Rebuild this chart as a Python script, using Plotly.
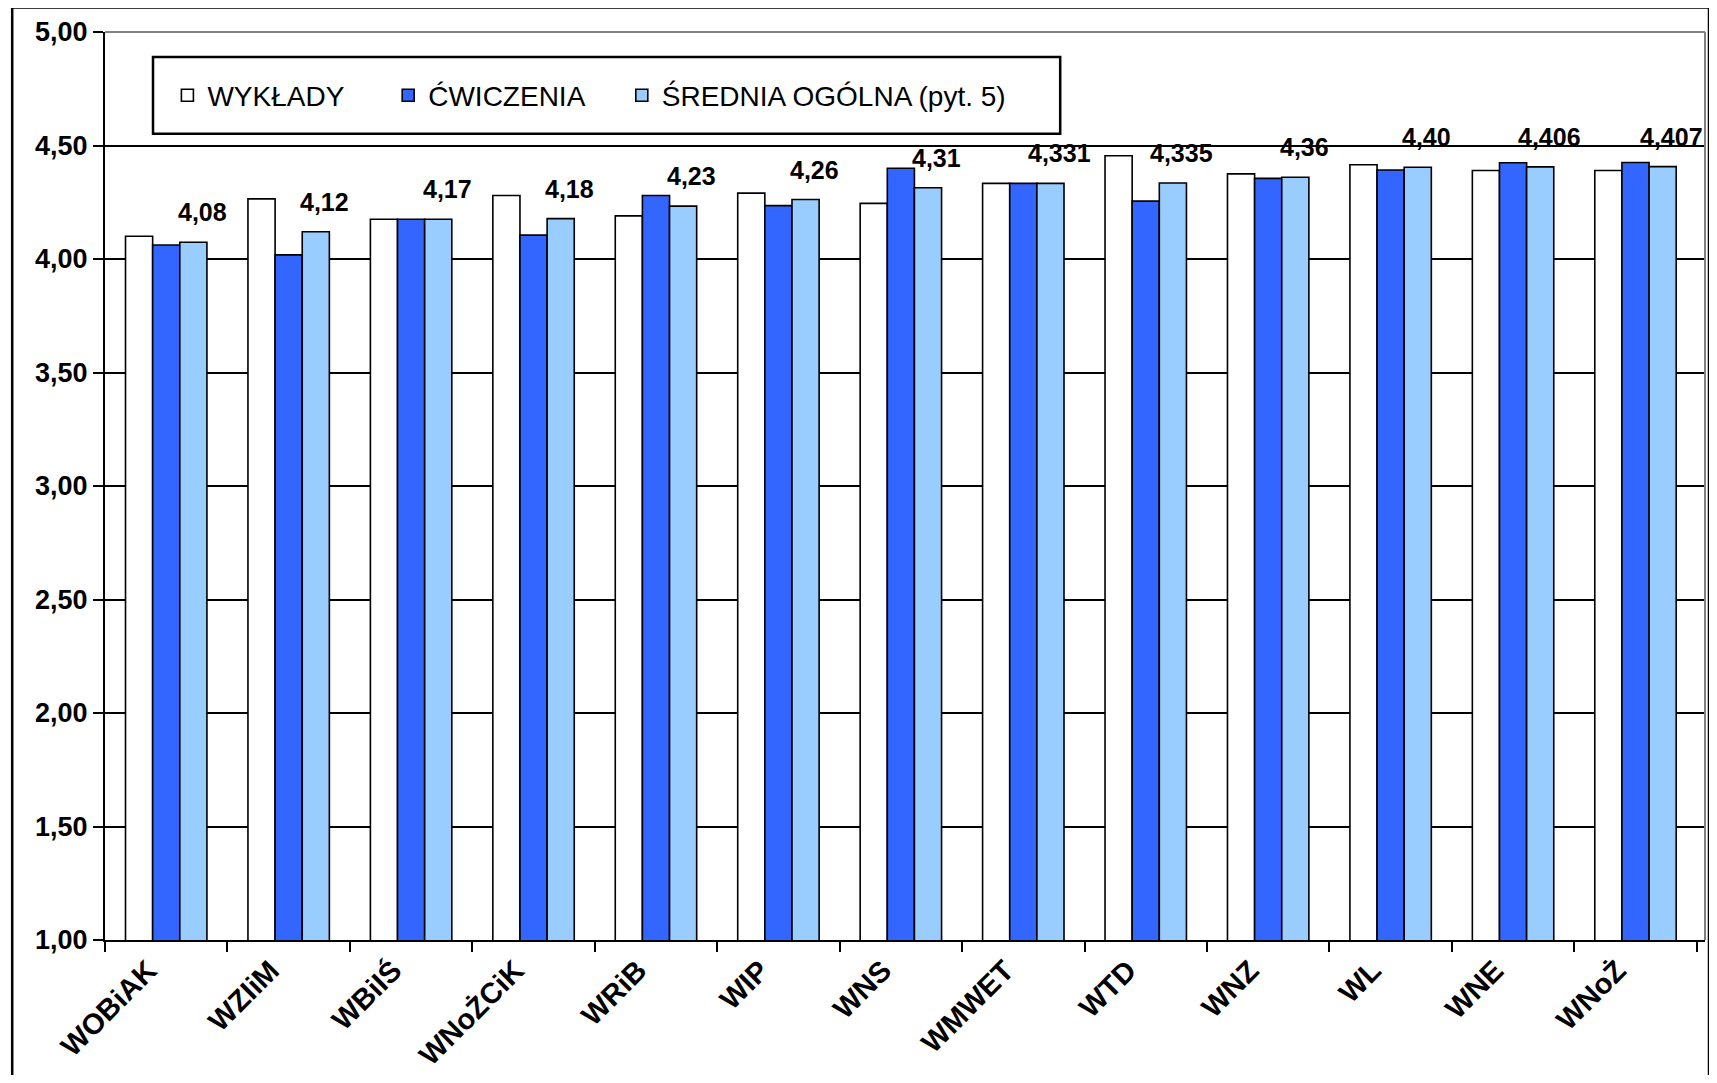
import plotly.graph_objects as go

categories = ["WOBiAK", "WZIiM", "WBiIŚ", "WNoŻCiK", "WRiB", "WIP", "WNS",
              "WMWET", "WTD", "WNZ", "WL", "WNE", "WNoŻ"]
wyklady = [4.10, 4.265, 4.175, 4.28, 4.19, 4.29, 4.245, 4.333, 4.455, 4.375, 4.415, 4.39, 4.39]
cwiczenia = [4.062, 4.018, 4.175, 4.105, 4.28, 4.235, 4.40, 4.333, 4.255, 4.355, 4.392, 4.424, 4.425]
srednia = [4.074, 4.12, 4.175, 4.178, 4.233, 4.262, 4.314, 4.333, 4.335, 4.36, 4.404, 4.406, 4.407]
labels = ["4,08", "4,12", "4,17", "4,18", "4,23", "4,26", "4,31", "4,331",
          "4,335", "4,36", "4,40", "4,406", "4,407"]
series_names = ["WYKŁADY", "ĆWICZENIA", "ŚREDNIA OGÓLNA (pyt. 5)"]
y_ticks = [1.0, 1.5, 2.0, 2.5, 3.0, 3.5, 4.0, 4.5, 5.0]

FONT = "Arial, Liberation Sans, sans-serif"
colors = ["#FFFFFF", "#3366FF", "#99CCFF"]
legend_ids = ["legend", "legend2", "legend3"]

fig = go.Figure()
for name, vals, col, lid in zip(series_names, [wyklady, cwiczenia, srednia], colors, legend_ids):
    fig.add_trace(go.Bar(
        x=categories, y=vals, name=name, legend=lid, showlegend=True,
        marker=dict(color=col, line=dict(color="black", width=1.6)),
    ))

annotations = []
for cat, v, lab in zip(categories, srednia, labels):
    annotations.append(dict(
        x=cat, y=v, xref="x", yref="y", text=lab, showarrow=False,
        xanchor="center", yanchor="bottom", xshift=36, yshift=14,
        font=dict(family=FONT, size=25, color="black", weight="bold"),
    ))

legend_common = dict(
    orientation="h", y=0.93, xanchor="left", yanchor="middle",
    font=dict(family=FONT, size=28, color="black"),
    bgcolor="rgba(0,0,0,0)", borderwidth=0,
)

fig.update_layout(
    width=1701, height=1067,
    margin=dict(l=97, r=4, t=24, b=128),
    paper_bgcolor="white", plot_bgcolor="white",
    separators=", ",
    showlegend=True,
    barmode="group", bargap=0.335, bargroupgap=0,
    font=dict(family=FONT, color="black"),
    annotations=annotations,
    legend=dict(x=0.039, **legend_common),
    legend2=dict(x=0.177, **legend_common),
    legend3=dict(x=0.323, **legend_common),
    shapes=[
        # outer chart frame
        dict(type="rect", xref="paper", yref="paper",
             x0=-0.058, x1=1.0025, y0=-0.3, y1=1.027,
             line=dict(color="black", width=2.5), fillcolor="rgba(0,0,0,0)", layer="below"),
        # legend frame
        dict(type="rect", xref="paper", yref="paper",
             x0=0.03, x1=0.597, y0=0.888, y1=0.9726,
             line=dict(color="black", width=2.5), fillcolor="rgba(0,0,0,0)", layer="below"),
        # plot area right / top border (grey)
        dict(type="line", xref="paper", yref="paper", x0=1, x1=1, y0=0, y1=1,
             line=dict(color="#808080", width=2)),
        dict(type="line", xref="paper", yref="paper", x0=0, x1=1, y0=1, y1=1,
             line=dict(color="#808080", width=2)),
    ],
)

fig.update_yaxes(
    range=[1, 5], tickvals=y_ticks, tickformat=".2f",
    showgrid=True, gridcolor="black", gridwidth=1.5,
    showline=True, linecolor="black", linewidth=2,
    ticks="outside", ticklen=10, tickwidth=2, tickcolor="black",
    tickfont=dict(family=FONT, size=27, color="black", weight="bold"),
    zeroline=False,
)
fig.update_xaxes(
    type="category", tickson="boundaries",
    showline=True, linecolor="black", linewidth=2,
    ticks="outside", ticklen=10, tickwidth=2, tickcolor="black",
    tickangle=-45, ticklabelshift=-18,
    tickfont=dict(family=FONT, size=29, color="black", weight="bold"),
    showgrid=False,
)

fig.write_html("out.html")
